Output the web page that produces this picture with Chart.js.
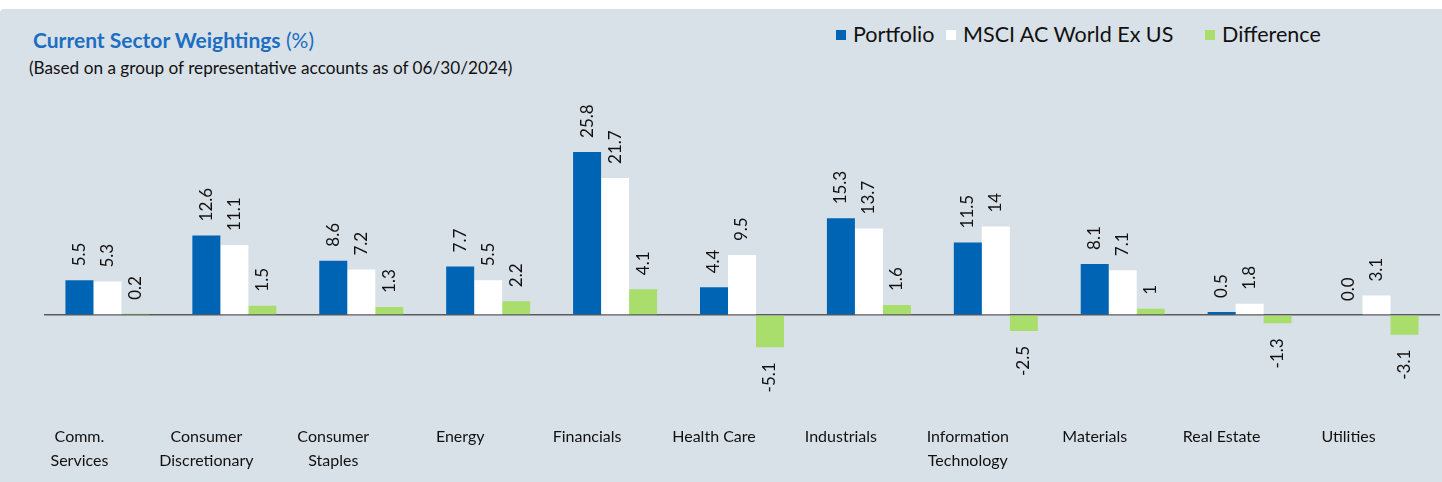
<!DOCTYPE html>
<html>
<head>
<meta charset="utf-8">
<script src="https://cdn.jsdelivr.net/npm/chart.js@4.4.1/dist/chart.umd.min.js"></script>
<style>
  html, body { margin: 0; padding: 0; background: #fff; }
  body { width: 1442px; height: 482px; position: relative; overflow: hidden; font-family: Lato, "Open Sans", sans-serif; }
  #panel { position: absolute; left: 0; top: 9px; width: 1442px; height: 473px; background: #d9e1e8; border-top-left-radius: 4px; }
  #wrap { position: absolute; left: 0; top: 0; width: 1442px; height: 482px; }
  #title { position: absolute; left: 33px; top: 26px; line-height: 28px; font-size: 21px; color: #1b6ec2; white-space: nowrap; }
  #title b { font-weight: 700; }
  #sub { position: absolute; left: 29px; top: 57px; line-height: 22px; font-size: 17.2px; color: #111; white-space: nowrap; }
  .item { position: absolute; top: 21px; line-height: 26px; font-size: 21.5px; color: #111; white-space: nowrap; }
  .box { display: inline-block; width: 10px; height: 10px; margin-right: 7px; vertical-align: 2px; }
</style>
</head>
<body>
<div id="panel"></div>
<div id="title"><b>Current Sector Weightings</b> (%)</div>
<div id="sub">(Based on a group of representative accounts as of 06/30/2024)</div>
<div id="legend"></div>
<div id="wrap"><canvas id="sectores"></canvas></div>
<script>
const sectores = [
  ["Comm.", "Services"],
  ["Consumer", "Discretionary"],
  ["Consumer", "Staples"],
  "Energy",
  "Financials",
  "Health Care",
  "Industrials",
  ["Information", "Technology"],
  "Materials",
  "Real Estate",
  "Utilities",
];
const portfolio = [5.5, 12.6, 8.6, 7.7, 25.8, 4.4, 15.3, 11.5, 8.1, 0.5, 0.0];
const msci = [5.3, 11.1, 7.2, 5.5, 21.7, 9.5, 13.7, 14, 7.1, 1.8, 3.1];
const diferencia = [0.2, 1.5, 1.3, 2.2, 4.1, -5.1, 1.6, -2.5, 1, -1.3, -3.1];
const nombres = ["Portfolio", "MSCI AC World Ex US", "Difference"];
const colores = ["#0064b4", "#ffffff", "#a9dd6c"];

const fuente = "Lato, 'Open Sans', sans-serif";

// leyenda en html
const leyenda = document.getElementById("legend");
const posLeyenda = [836, 946, 1205];
nombres.forEach((n, i) => {
  const item = document.createElement("div");
  item.className = "item";
  item.style.left = posLeyenda[i] + "px";
  const caja = document.createElement("span");
  caja.className = "box";
  caja.style.background = colores[i];
  item.appendChild(caja);
  item.appendChild(document.createTextNode(n));
  leyenda.appendChild(item);
});

// etiquetas giradas encima / debajo de cada barra
const plugin_etiquetas = {
  id: "etiquetasGiradas",
  afterDatasetsDraw: (chart) => {
    const ctx = chart.ctx;
    ctx.save();
    ctx.font = "17px " + fuente;
    ctx.fillStyle = "#111";
    ctx.textBaseline = "middle";
    chart.data.datasets.forEach((ds, di) => {
      const meta = chart.getDatasetMeta(di);
      meta.data.forEach((bar, i) => {
        const v = ds.data[i];
        const texto = di == 0 ? v.toFixed(1) : String(v);
        ctx.save();
        ctx.translate(bar.x, bar.y);
        ctx.rotate(-Math.PI / 2);
        if (v >= 0) {
          ctx.textAlign = "left";
          ctx.fillText(texto, 14, 0);
        } else {
          ctx.textAlign = "right";
          ctx.fillText(texto, -15, 0);
        }
        ctx.restore();
      });
    });
    ctx.restore();
  },
};

const ctx1 = document.getElementById("sectores").getContext("2d");
const chart_sectores = new Chart(ctx1, {
  type: "bar",
  data: {
    labels: sectores,
    datasets: [
      { label: nombres[0], data: portfolio, backgroundColor: colores[0] },
      { label: nombres[1], data: msci, backgroundColor: colores[1] },
      { label: nombres[2], data: diferencia, backgroundColor: colores[2] },
    ],
  },
  options: {
    responsive: true,
    maintainAspectRatio: false,
    animation: false,
    layout: {
      padding: { left: 44, right: 2, top: 125.4, bottom: 0 },
    },
    datasets: {
      bar: { barPercentage: 1, categoryPercentage: 0.662 },
    },
    plugins: {
      legend: { display: false },
      tooltip: { enabled: false },
    },
    scales: {
      x: {
        grid: { display: false },
        border: { display: false },
        afterFit: (scale) => {
          scale.height = 91;
        },
        ticks: {
          color: "#111",
          font: { family: fuente, size: 16, lineHeight: 1.5 },
          padding: 26,
          labelOffset: -28,
          maxRotation: 0,
          autoSkip: false,
        },
      },
      y: {
        min: -12,
        max: 30,
        ticks: { display: false, stepSize: 6 },
        border: { display: false },
        grid: {
          drawTicks: false,
          lineWidth: 1.5,
          color: (c) => (c.tick && c.tick.value === 0 ? "#5a5a5a" : "rgba(0,0,0,0)"),
        },
      },
    },
  },
  plugins: [plugin_etiquetas],
});
</script>
</body>
</html>
